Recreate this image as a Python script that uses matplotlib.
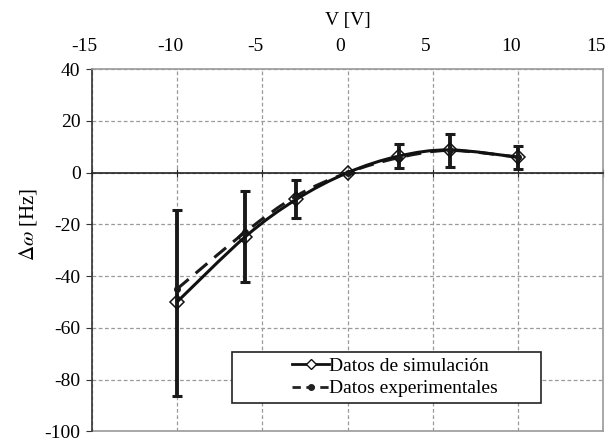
import numpy as np
import matplotlib
matplotlib.use("Agg")
import matplotlib.pyplot as plt
import matplotlib.transforms as mtransforms
from matplotlib.path import Path
from matplotlib.patches import PathPatch, Rectangle
from matplotlib.lines import Line2D

plt.rcParams['font.family'] = ['Liberation Serif', 'DejaVu Serif']
plt.rcParams['mathtext.fontset'] = 'stix'
plt.rcParams['axes.unicode_minus'] = False

# data
voltage = [-10, -6, -3, 0, 3, 6, 10]
sim_values = [-50, -24.8, -10.3, 0, 6.4, 8.8, 6.0]
exp_values = [-45, -23.0, -9.0, 0, 5.8, 8.6, 6.0]
err_low = [-86.2, -42.3, -17.5, 0, 1.7, 2.3, 1.4]
err_high = [-14.3, -7.0, -2.8, 0, 11.0, 15.1, 10.4]
x_ticks = [-15, -10, -5, 0, 5, 10, 15]
y_ticks = [40, 20, 0, -20, -40, -60, -80, -100]
legend_labels = ['Datos de simulación', 'Datos experimentales']


def smooth_path(xs, ys):
    # Excel-like smoothed line: cubic bezier through every point
    pts = np.column_stack([xs, ys]).astype(float)
    verts = [pts[0]]
    codes = [Path.MOVETO]
    n = len(pts)
    for i in range(n - 1):
        p0 = pts[i - 1] if i > 0 else pts[i]
        p1 = pts[i]
        p2 = pts[i + 1]
        p3 = pts[i + 2] if i + 2 < n else pts[i + 1]
        c1 = p1 + (p2 - p0) / 6.0
        c2 = p2 - (p3 - p1) / 6.0
        verts += [c1, c2, p2]
        codes += [Path.CURVE4] * 3
    return Path(verts, codes)


fig = plt.figure(figsize=(6.06, 4.41), dpi=100)
ax = fig.add_axes([0.1513, 0.022, 0.8444, 0.821])

ax.set_xlim(-15, 15)
ax.set_ylim(-100, 40)
ax.set_xticks(x_ticks)
ax.set_yticks(y_ticks)
ax.grid(True, color='#9a9a9a', linestyle=(0, (3, 2)), linewidth=0.9)
ax.set_axisbelow(True)

# error bars
yerr = np.array([np.array(sim_values) - np.array(err_low),
                 np.array(err_high) - np.array(sim_values)])
ax.errorbar(voltage, sim_values, yerr=yerr, fmt='none', ecolor='#1a1a1a',
            elinewidth=2.8, capsize=3.5, capthick=2.2, zorder=3)

# smoothed lines
ax.add_patch(PathPatch(smooth_path(voltage, exp_values), fill=False,
                       edgecolor='#1a1a1a', linewidth=2.2,
                       linestyle=(0, (5, 3)), zorder=4))
ax.add_patch(PathPatch(smooth_path(voltage, sim_values), fill=False,
                       edgecolor='#111111', linewidth=2.2, zorder=5))
ax.plot(voltage, exp_values, linestyle='none', marker='o', markersize=4,
        color='#1a1a1a', zorder=6)
ax.plot(voltage, sim_values, linestyle='none', marker='D', markersize=7,
        markerfacecolor='none', markeredgecolor='#111111',
        markeredgewidth=1.1, zorder=7)

# axes styling
ax.spines['bottom'].set_position(('data', 0))
ax.spines['bottom'].set_color('#222222')
ax.spines['bottom'].set_linewidth(1.2)
ax.spines['left'].set_color('#333333')
ax.spines['left'].set_linewidth(1.2)
for side in ['top', 'right']:
    ax.spines[side].set_color('#9a9a9a')
    ax.spines[side].set_linewidth(1.2)
ax.axhline(-100, color='#9a9a9a', linewidth=1.2, clip_on=False, zorder=1)

ax.tick_params(axis='x', direction='inout', length=6, color='#222222',
               bottom=True, top=False, labelbottom=False, labeltop=True,
               labelsize=14, pad=7.5)
ax.tick_params(axis='y', direction='out', length=4, labelsize=14,
               color='#333333', pad=4)
ax.xaxis.set_label_position('top')
ax.set_xlabel('V [V]', fontsize=14, labelpad=9)

# Excel draws the top labels a few pixels left of the gridlines
shift = mtransforms.ScaledTranslation(-0.07, 0, fig.dpi_scale_trans)
for tick in ax.xaxis.get_major_ticks():
    tick.label2.set_transform(tick.label2.get_transform() + shift)

ax.set_ylabel(r'$\Delta\omega$ [Hz]', fontsize=15)
ax.yaxis.set_label_coords(-0.102, 0.571)

# legend: wide frame with entries set to the right
frame = Rectangle((0.274, 0.079), 0.604, 0.141, transform=ax.transAxes,
                  facecolor='white', edgecolor='#222222', linewidth=1.2,
                  zorder=8)
ax.add_patch(frame)
handles = [
    Line2D([], [], color='#111111', linewidth=2.0, marker='D', markersize=5,
           markerfacecolor='white', markeredgecolor='#111111'),
    Line2D([], [], color='#222222', linewidth=2.0, linestyle=(0, (3, 2)),
           marker='o', markersize=4),
]
leg = ax.legend(handles, legend_labels, loc='center left',
                bbox_to_anchor=(0.392, 0.149), fontsize=14, frameon=False,
                handlelength=1.9, handletextpad=0.0, borderpad=0.0,
                labelspacing=0.25, borderaxespad=0)
leg.set_zorder(9)

fig.savefig('out.png', dpi=100)
